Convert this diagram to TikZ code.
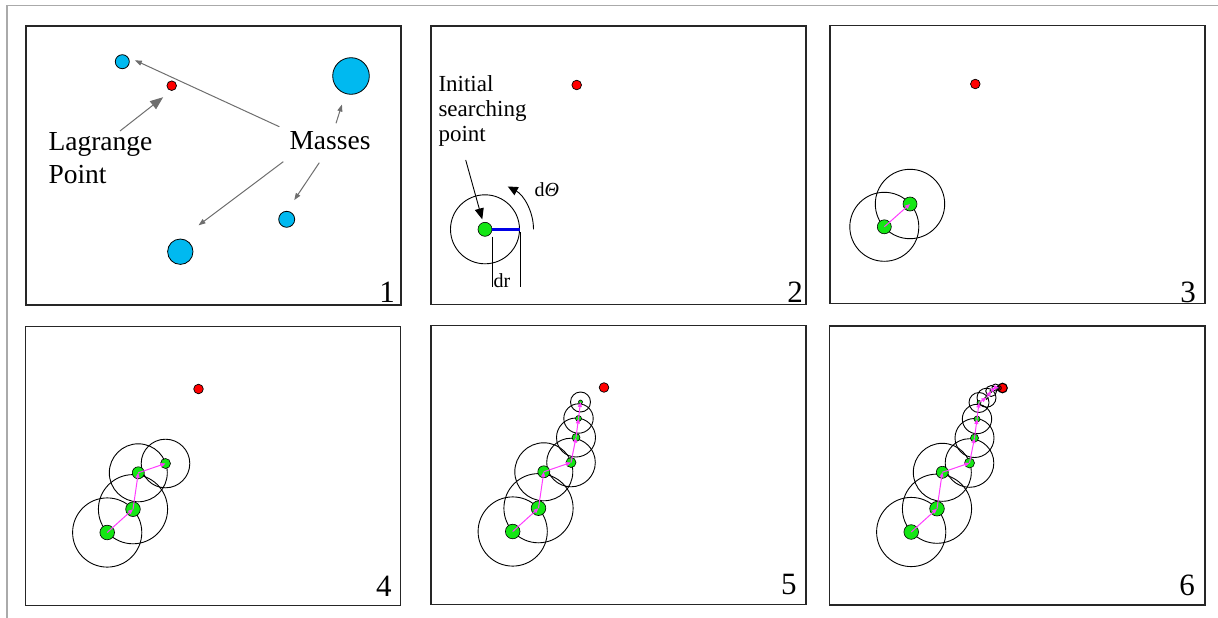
\documentclass[tikz,border=0pt]{standalone}
\usepackage{fontspec}
\setmainfont{Liberation Serif}
\usetikzlibrary{arrows.meta}
\definecolor{massblue}{RGB}{0,185,240}
\definecolor{ptgreen}{RGB}{20,230,20}
\definecolor{stepmag}{RGB}{255,60,255}
\definecolor{lpred}{RGB}{255,0,0}
\definecolor{annogray}{RGB}{110,110,110}
\definecolor{framegray}{RGB}{170,170,170}
\definecolor{radblue}{RGB}{0,0,230}

% x/y/circle radius/dot radius of the search steps (panel-relative)
\newcommand{\chainpts}{81.7/206/34.6/7.3, 107.5/182.7/34.6/7.3, 112.8/146.3/29/6, 140/137/24.3/5, 145/112/19.5/4, 147.5/93/14.7/3, 149.5/76.5/10/2, 157/71.7/9.5/1.7, 161.7/65/5.5/1.5, 166/61.5/3.5/1.2, 169.5/62/2.3/1}

\newcommand{\drawchain}[2]{%
  \foreach \px/\py/\pc/\pg [count=\i] in \chainpts {%
    \ifnum\i>#2\relax\else
      \node[ring, minimum size={2*\pc pt}] (#1c\i) at (\px,\py) {};
    \fi
  }
  \foreach \px/\py/\pc/\pg [count=\i] in \chainpts {%
    \ifnum\i>#2\relax\else
      \node[gdot, minimum size={2*\pg pt}] (#1g\i) at (\px,\py) {};
    \fi
  }
  \foreach \i in {2,...,#2} {%
    \pgfmathtruncatemacro\j{\i-1}
    \draw[steparrow] (#1g\j.center) -- (#1g\i.center);
  }
}

\begin{document}
\begin{tikzpicture}[x=1pt,y=-1pt,
  panelbox/.style={draw=black!85, line width=1.3pt},
  frameline/.style={draw=framegray, line width=1.2pt},
  reddot/.style={circle, fill=lpred, draw=black, line width=0.7pt, inner sep=0pt, outer sep=0pt, minimum size=9.6pt},
  bluedot/.style={circle, fill=massblue, draw=black, line width=0.8pt, inner sep=0pt, outer sep=0pt},
  gdot/.style={circle, fill=ptgreen, draw=black, line width=0.6pt, inner sep=0pt, outer sep=0pt},
  ring/.style={circle, draw=black, line width=0.9pt, inner sep=0pt, outer sep=0pt},
  steparrow/.style={draw=stepmag, line width=1pt, -{Triangle[length=5pt,width=4pt]}},
  garrow/.style={draw=annogray, line width=1pt, -{Triangle[length=7pt,width=5pt]}},
  bigarrow/.style={draw=annogray, line width=1pt, -{Triangle[length=13pt,width=10pt]}},
  blackarrow/.style={draw=black, line width=0.9pt, -{Triangle[length=11pt,width=9pt]}},
  arcarrow/.style={draw=black, line width=0.9pt, -{Triangle[length=10pt,width=9pt]}},
  lblbig/.style={font=\fontsize{27.5}{32.7}\selectfont, align=left, inner sep=0pt, text=black},
  lblmid/.style={font=\fontsize{23}{25}\selectfont, align=left, inner sep=0pt, text=black},
  lblsmall/.style={font=\fontsize{20}{22}\selectfont, inner sep=0pt, text=black},
  numlabel/.style={font=\fontsize{31}{31}\selectfont, anchor=base east, inner sep=0pt}
]
\useasboundingbox (0,0) rectangle (1218,618);
\draw[frameline] (7,618) -- (7,5.5) -- (1218,5.5);

% ---------- Panel 1 ----------
\begin{scope}[shift={(26,26)}]
  \draw[panelbox] (0,0) rectangle (375,279);
  \node[bluedot, minimum size=14pt] (m1) at (96.3,35.7) {};
  \node[reddot] (red1) at (145.7,59.7) {};
  \node[bluedot, minimum size=36.6pt] (m2) at (325,50) {};
  \node[bluedot, minimum size=16pt] (m3) at (260.7,193.3) {};
  \node[bluedot, minimum size=25.4pt] (m4) at (154.3,225.7) {};
  \node[lblbig, anchor=north west] (lag) at (22.3,106.5) {Lagrange\\Point};
  \node[lblbig, anchor=base west] (mas) at (263.3,123.3) {Masses};
  \coordinate (lagS) at (94,105);
  \coordinate (masA) at (253.3,100.7);
  \coordinate (masB) at (310,97.3);
  \coordinate (masC) at (257.3,135.7);
  \coordinate (masD) at (293.3,136.7);
  \draw[bigarrow, shorten >=10.9pt] (lagS) -- (red1.south);
  \draw[garrow, shorten >=8.4pt] (masA) -- (m1.north east);
  \draw[garrow, shorten >=11.6pt] (masB) -- (m2);
  \draw[garrow, shorten >=22.8pt] (masC) -- (m4.north);
  \draw[garrow, shorten >=13.5pt] (masD) -- (m3.north);
  \node[numlabel] (n1) at (369,276.7) {1};
\end{scope}

% ---------- Panel 2 ----------
\begin{scope}[shift={(431,26)}]
  \draw[panelbox] (0,0) rectangle (375,278.5);
  \node[reddot] (red2) at (145.7,59) {};
  \node[ring, minimum size=69pt] (sc) at (54,203.3) {};
  \node[gdot, minimum size=14pt] (s0) at (54,203.3) {};
  \draw[draw=radblue, line width=3pt] (s0.east) -- (sc.east);
  \node[lblmid, anchor=north west] (isp) at (7.3,49.3) {Initial\\searching\\point};
  \coordinate (ispA) at (34.7,134);
  \draw[blackarrow, shorten >=3.3pt] (ispA) -- (s0);
  \draw[arcarrow] (102.5,203.3) arc[start angle=0, end angle=62, radius=48.5pt];
  \node[lblsmall, anchor=base west] (dth) at (103.3,170) {d{\itshape Θ}};
  \draw[black, line width=0.9pt] (61.7,210.7) -- (61.7,260.7);
  \draw[black, line width=0.9pt] (89.7,206) -- (89.7,260.7);
  \node[lblsmall, anchor=base west] (drl) at (62.3,261.7) {dr};
  \node[numlabel] (n2) at (372,276.7) {2};
\end{scope}

% ---------- Panel 3 ----------
\begin{scope}[shift={(830,25.5)}]
  \draw[panelbox] (0,0) rectangle (375,278);
  \node[reddot] (red3) at (145.3,58.5) {};
  \node[ring, minimum size=69pt] (tc1) at (54.3,201.3) {};
  \node[ring, minimum size=69.4pt] (tc2) at (80,178.5) {};
  \node[gdot, minimum size=14pt] (tg1) at (54.3,201.3) {};
  \node[gdot, minimum size=14pt] (tg2) at (80,178.5) {};
  \draw[steparrow] (tg1.center) -- (tg2.center);
  \node[numlabel] (n3) at (366,276.5) {3};
\end{scope}

% ---------- Panel 4 ----------
\begin{scope}[shift={(25.5,326.5)}]
  \draw[panelbox] (0,0) rectangle (375,279);
  \node[reddot] (red4) at (173,62.5) {};
  \drawchain{pd}{4}
  \node[numlabel] (n4) at (366.2,269.5) {4};
\end{scope}

% ---------- Panel 5 ----------
\begin{scope}[shift={(431,325.5)}]
  \draw[panelbox] (0,0) rectangle (375,279);
  \node[reddot] (red5) at (173,62) {};
  \drawchain{pe}{7}
  \node[numlabel] (n5) at (365.7,268.5) {5};
\end{scope}

% ---------- Panel 6 ----------
\begin{scope}[shift={(829.5,326)}]
  \draw[panelbox] (0,0) rectangle (375.5,279);
  \node[reddot, line width=1.1pt] (red6) at (173,62) {};
  \drawchain{pf}{11}
  \node[numlabel] (n6) at (365.5,269) {6};
\end{scope}
\end{tikzpicture}
\end{document}
